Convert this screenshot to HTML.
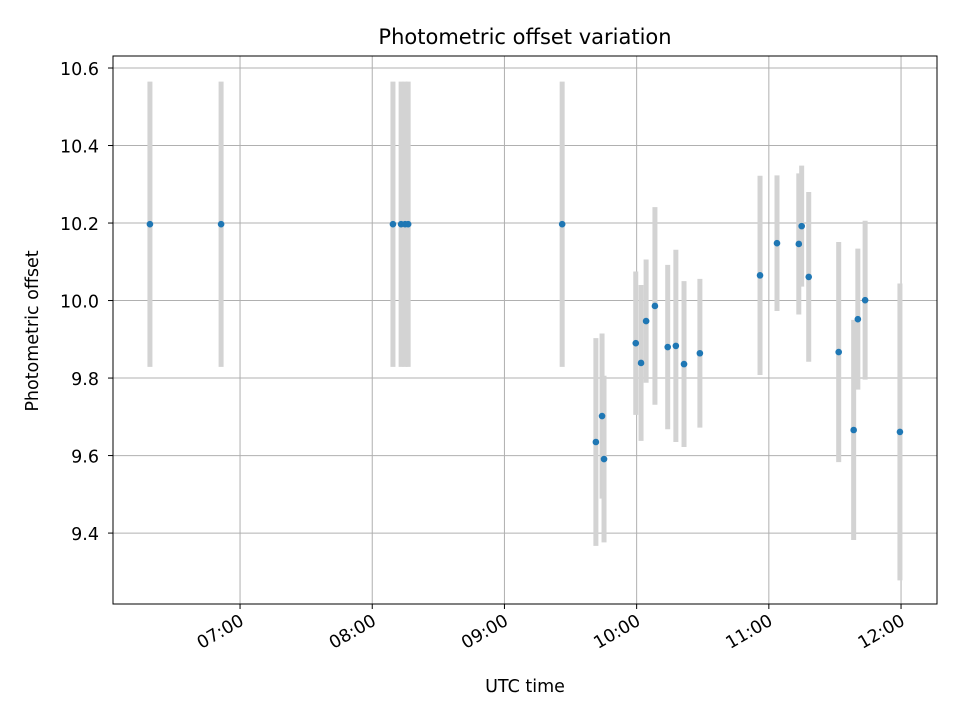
<!DOCTYPE html>
<html><head><meta charset="utf-8"><style>
body{margin:0;background:#fff;}
svg text{font-family:"DejaVu Sans","Liberation Sans",sans-serif;fill:#000;}
</style></head><body>
<svg id="chart" width="960" height="720" xmlns="http://www.w3.org/2000/svg">
<rect width="960" height="720" fill="#fff"/>
<g id="grid"></g><g id="bars"></g><g id="pts"></g><g id="axes"></g>
</svg>
<script>
const timesMin=[379.1,411.4,489.4,493.1,494.9,496.3,566.2,581.5,584.3,585.2,599.6,602.0,604.3,608.3,614.1,617.8,621.5,628.7,656.0,663.7,673.6,674.9,678.1,691.7,698.5,700.4,703.7,719.5];
const values=[10.197,10.197,10.197,10.197,10.197,10.197,10.197,9.635,9.702,9.591,9.890,9.839,9.947,9.986,9.880,9.883,9.836,9.864,10.065,10.148,10.146,10.192,10.061,9.867,9.666,9.952,10.001,9.661];
const errors=[0.368,0.368,0.368,0.368,0.368,0.368,0.368,0.268,0.213,0.215,0.185,0.201,0.159,0.255,0.212,0.248,0.214,0.192,0.257,0.175,0.182,0.156,0.219,0.284,0.284,0.182,0.205,0.383];
const yTicks=[9.4,9.6,9.8,10.0,10.2,10.4,10.6];
const xTickHours=[7,8,9,10,11,12];
const xTickLabels=["07:00","08:00","09:00","10:00","11:00","12:00"];

const L=113,R=937,T=56,B=604;
const xMin=6.039*60,xMax=12.272*60,yMin=9.217,yMax=10.631;
const xs=m=>L+(m-xMin)/(xMax-xMin)*(R-L);
const ys=v=>B-(v-yMin)/(yMax-yMin)*(B-T);
const NS="http://www.w3.org/2000/svg";
function mk(tag,parent,attrs){const e=document.createElementNS(NS,tag);for(const k in attrs)e.setAttribute(k,attrs[k]);document.getElementById(parent).appendChild(e);return e;}

yTicks.forEach(t=>{
  const y=ys(t);
  const g=mk('line','grid',{x1:L,x2:R,y1:y,y2:y,stroke:'#b0b0b0','stroke-width':1});
  
  
  const tk=mk('line','axes',{x1:L-5,x2:L,y1:y,y2:y,stroke:'#000','stroke-width':1});
  
  
  const tx=mk('text','axes',{x:L-14,y:y+7,'text-anchor':'end','font-size':'17.5'});
  tx.textContent=t.toFixed(1);
  
  
});
xTickHours.forEach((h,i)=>{
  const x=xs(h*60);
  const g=mk('line','grid',{x1:x,x2:x,y1:T,y2:B,stroke:'#b0b0b0','stroke-width':1});
  
  
  const tk=mk('line','axes',{x1:x,x2:x,y1:B,y2:B+5,stroke:'#000','stroke-width':1});
  
  
  const tx=mk('text','axes',{x:x+5,y:B+20,'text-anchor':'end','font-size':'17.5',transform:`rotate(-30 ${x+5} ${B+20})`});
  tx.textContent=xTickLabels[i];
  
  
});
timesMin.forEach((m,i)=>{
  const x=xs(m);
  const b=mk('line','bars',{x1:x,x2:x,y1:ys(values[i]+errors[i]),y2:ys(values[i]-errors[i]),stroke:'#d3d3d3','stroke-width':5});
  
  
  const c=mk('circle','pts',{cx:x,cy:ys(values[i]),r:3.3,fill:'#1f77b4'});
  
  
});
const fr=mk('rect','axes',{x:L,y:T,width:R-L,height:B-T,fill:'none',stroke:'#000','stroke-width':1});


const ti=mk('text','axes',{x:(L+R)/2,y:44,'text-anchor':'middle','font-size':'21'});
ti.textContent='Photometric offset variation';


const xl=mk('text','axes',{x:(L+R)/2,y:692,'text-anchor':'middle','font-size':'17.5'});
xl.textContent='UTC time';


const yl=mk('text','axes',{x:38,y:331,'text-anchor':'middle','font-size':'17.5',transform:'rotate(-90 38 331)'});
yl.textContent='Photometric offset';


</script>
</body></html>
